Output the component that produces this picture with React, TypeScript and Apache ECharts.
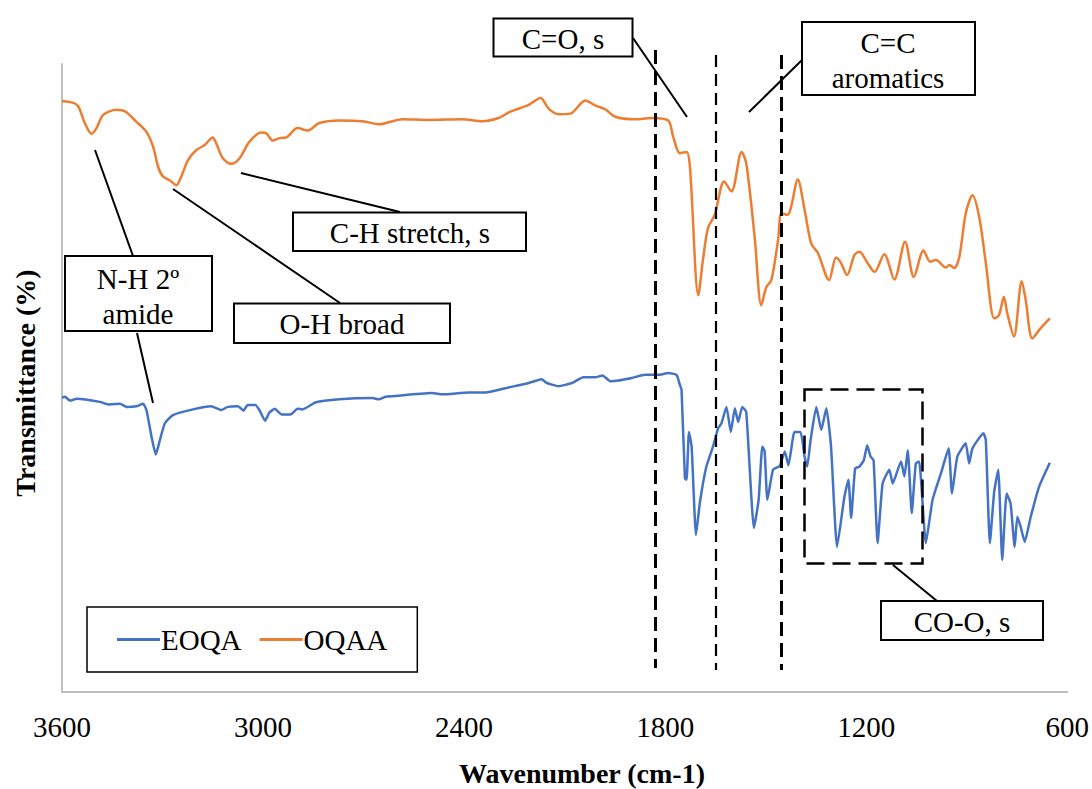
import React, { useEffect, useRef } from "react";
import * as echarts from "echarts";

// OQAA (orange) spectrum: wavenumber (cm-1) and relative transmittance
const oqaaWn = [3600, 3566, 3551, 3532, 3512, 3497, 3477, 3437, 3410, 3378, 3348, 3328, 3313, 3299, 3279, 3259, 3244, 3224, 3199, 3174, 3150, 3140, 3120, 3095, 3070, 3041, 3006, 2991, 2971, 2951, 2931, 2897, 2867, 2832, 2773, 2703, 2654, 2584, 2505, 2406, 2346, 2297, 2262, 2207, 2172, 2148, 2118, 2083, 2038, 2009, 1979, 1949, 1890, 1841, 1791, 1776, 1756, 1736, 1726, 1701, 1686, 1672, 1652, 1624, 1602, 1572, 1558, 1533, 1513, 1498, 1483, 1463, 1453, 1434, 1424, 1404, 1384, 1364, 1344, 1311, 1290, 1275, 1257, 1235, 1220, 1197, 1175, 1146, 1116, 1084, 1058, 1029, 1009, 992, 962, 952, 937, 922, 903, 883, 863, 843, 818, 804, 789, 779, 759, 736, 724, 704, 680, 652];
const oqaaT = [94.1, 93.8, 93.2, 90.6, 88.9, 89.8, 91.9, 92.7, 92.4, 90.8, 89.2, 86.8, 83.6, 82.1, 81.5, 80.7, 82.1, 84.7, 86.3, 87.1, 88.3, 87.4, 85.0, 84.1, 85.0, 87.6, 89.1, 89.0, 87.8, 88.2, 88.3, 89.8, 89.4, 90.6, 91.0, 90.9, 90.4, 91.2, 91.1, 91.2, 90.9, 91.4, 92.4, 93.5, 94.6, 92.9, 92.0, 92.1, 94.2, 93.4, 92.8, 91.6, 91.2, 91.4, 91.0, 88.4, 85.8, 86.0, 83.6, 63.2, 69.3, 73.9, 76.0, 81.3, 79.7, 86.0, 84.2, 72.5, 61.6, 64.5, 65.6, 72.0, 76.2, 76.0, 77.3, 81.6, 76.8, 71.4, 69.9, 65.6, 69.2, 68.3, 66.4, 69.6, 70.1, 68.4, 66.9, 69.7, 65.7, 71.7, 66.1, 70.3, 68.5, 68.8, 67.6, 68.0, 67.5, 69.3, 76.2, 79.1, 75.7, 68.3, 59.5, 60.0, 62.9, 60.3, 56.6, 65.4, 62.4, 56.3, 57.9, 59.5];

// EOQA (blue) spectrum
const eoqaWn = [3600, 3591, 3576, 3556, 3487, 3462, 3427, 3407, 3378, 3358, 3348, 3333, 3320, 3308, 3293, 3269, 3209, 3155, 3125, 3105, 3075, 3058, 3046, 3023, 3011, 2994, 2981, 2965, 2945, 2918, 2897, 2882, 2844, 2773, 2674, 2654, 2634, 2574, 2495, 2465, 2386, 2336, 2267, 2207, 2169, 2153, 2118, 2078, 2044, 2009, 1987, 1964, 1939, 1900, 1860, 1820, 1791, 1766, 1756, 1751, 1741, 1736, 1729, 1721, 1708, 1696, 1677, 1657, 1642, 1632, 1617, 1604, 1592, 1582, 1570, 1558, 1535, 1521, 1510, 1503, 1495, 1478, 1458, 1443, 1432, 1414, 1396, 1384, 1376, 1366, 1349, 1334, 1319, 1305, 1287, 1265, 1253, 1245, 1233, 1220, 1207, 1197, 1187, 1178, 1166, 1151, 1131, 1121, 1096, 1086, 1076, 1064, 1052, 1042, 1022, 1002, 977, 954, 944, 928, 903, 893, 883, 850, 843, 831, 818, 806, 794, 781, 769, 757, 749, 739, 727, 709, 684, 652];
const eoqaT = [46.9, 47.0, 46.4, 46.7, 46.2, 45.8, 45.9, 45.4, 45.5, 45.9, 44.9, 40.7, 37.8, 40.1, 42.8, 44.1, 45.0, 45.5, 44.9, 45.4, 45.5, 44.8, 45.7, 45.7, 44.9, 43.2, 44.5, 45.1, 44.2, 44.2, 45.1, 45.0, 46.1, 46.6, 46.8, 46.6, 47.0, 47.3, 47.6, 47.4, 47.7, 47.7, 48.5, 49.2, 49.8, 49.2, 48.7, 49.2, 50.1, 50.1, 50.4, 49.5, 49.6, 50.0, 50.5, 50.5, 50.8, 50.5, 48.9, 48.1, 34.0, 33.8, 41.4, 39.1, 25.0, 30.3, 35.9, 39.1, 42.0, 42.8, 45.4, 41.4, 45.2, 43.0, 45.4, 44.6, 26.1, 30.6, 39.1, 38.3, 30.6, 35.4, 36.0, 38.3, 36.1, 41.4, 41.4, 37.5, 35.9, 40.1, 45.4, 41.7, 45.2, 39.1, 23.1, 31.1, 33.8, 27.7, 35.6, 35.9, 36.9, 39.3, 37.5, 36.9, 23.7, 33.2, 35.4, 33.2, 36.7, 34.3, 38.5, 28.5, 36.4, 36.7, 23.7, 30.6, 34.8, 38.8, 31.6, 37.5, 39.6, 36.4, 38.8, 41.2, 40.1, 23.7, 31.9, 35.4, 21.0, 31.6, 30.0, 23.1, 27.9, 26.3, 23.9, 27.9, 32.7, 36.5];

const seriesNames = ["EOQA", "OQAA"];
const xTicks = { min: 600, max: 3600, interval: 600 };

const SERIF = "'Liberation Serif', 'Times New Roman', serif";

function zip(xs: number[], ys: number[]) {
  return xs.map((x, i) => [x, ys[i]]);
}

function box(x: number, y: number, w: number, h: number) {
  return {
    type: "rect",
    shape: { x, y, width: w, height: h },
    style: { fill: "#fff", stroke: "#000", lineWidth: 2 },
    z: 10,
  };
}

function label(text: string, x: number, y: number, extra: any = {}) {
  return {
    type: "text",
    x,
    y,
    z: 11,
    style: {
      text,
      align: "center",
      verticalAlign: "middle",
      fontSize: 29,
      fontFamily: SERIF,
      fill: "#000",
      lineHeight: 35,
      ...extra,
    },
  };
}

function seg(x1: number, y1: number, x2: number, y2: number, w = 2, dash: number[] | null = null) {
  return {
    type: "line",
    shape: { x1, y1, x2, y2 },
    style: { stroke: "#000", lineWidth: w, lineDash: dash || undefined },
    z: 9,
  };
}

export default function App() {
  const ref = useRef<HTMLDivElement>(null);
  useEffect(() => {
    if (!ref.current) return;
    const chart = echarts.init(ref.current, undefined, { renderer: "svg" });
    chart.setOption({
      animation: false,
      backgroundColor: "#fff",
      grid: { left: 62, right: 22, top: 64, bottom: 97, containLabel: false },
      xAxis: {
        type: "value",
        inverse: true,
        min: xTicks.min,
        max: xTicks.max,
        interval: xTicks.interval,
        axisLine: { show: true, lineStyle: { color: "#BFBFBF", width: 2 } },
        axisTick: { show: false },
        splitLine: { show: false },
        axisLabel: {
          fontSize: 29,
          fontFamily: SERIF,
          color: "#000",
          margin: 20,
          showMinLabel: true,
          showMaxLabel: true,
          formatter: (v: number) => String(v),
        },
      },
      yAxis: {
        type: "value",
        min: 0,
        max: 100,
        position: "left",
        axisLine: { show: true, onZero: false, lineStyle: { color: "#BFBFBF", width: 2 } },
        axisTick: { show: false },
        axisLabel: { show: false },
        splitLine: { show: false },
      },
      legend: {
        data: seriesNames,
        left: 87,
        top: 607,
        orient: "horizontal",
        padding: [18, 30, 18, 30],
        borderColor: "#000",
        borderWidth: 1.5,
        itemGap: 18,
        itemWidth: 43,
        itemHeight: 3,
        icon: "rect",
        textStyle: { fontSize: 29, fontFamily: SERIF, color: "#000", padding: [0, 0, 0, -4] },
      },
      series: [
        {
          name: seriesNames[0],
          type: "line",
          data: zip(eoqaWn, eoqaT),
          showSymbol: false,
          smooth: 0.15,
          lineStyle: { color: "#4472C4", width: 2.5 },
          itemStyle: { color: "#4472C4" },
        },
        {
          name: seriesNames[1],
          type: "line",
          data: zip(oqaaWn, oqaaT),
          showSymbol: false,
          smooth: 0.3,
          lineStyle: { color: "#ED7D31", width: 2.5 },
          itemStyle: { color: "#ED7D31" },
        },
      ],
      graphic: [
        // dashed reference lines
        seg(655.5, 50, 655.5, 668, 3, [14, 7]),
        seg(716, 55, 716, 670, 2.2, [12, 7]),
        seg(781.5, 55, 781.5, 670, 3, [14, 7]),
        // dashed region box
        {
          type: "rect",
          shape: { x: 804.5, y: 389.5, width: 118, height: 174 },
          style: { fill: "none", stroke: "#000", lineWidth: 2.5, lineDash: [18, 8] },
          z: 9,
        },
        // leader lines
        seg(633, 38, 687, 117),
        seg(802, 60, 749, 112),
        seg(400, 212, 241, 173),
        seg(133, 256, 95, 150),
        seg(137, 333, 153, 403),
        seg(340, 303, 173, 189),
        seg(937, 601, 893, 565),
        // boxes
        box(493.5, 18.5, 139, 38),
        label("C=O, s", 563, 39),
        box(802, 22, 173, 73),
        label("C=C\naromatics", 888, 60),
        box(293, 212.5, 233, 38.5),
        label("C-H stretch, s", 410, 233),
        box(65, 256, 147, 75),
        label("N-H 2º\namide", 138, 296),
        box(234, 303.5, 216, 39.5),
        label("O-H broad", 342, 324),
        box(881, 601, 162, 39),
        label("CO-O, s", 962, 622),
        // axis titles
        {
          type: "text",
          x: 582,
          y: 773,
          style: {
            text: "Wavenumber (cm-1)",
            align: "center",
            verticalAlign: "middle",
            fontSize: 28,
            fontWeight: "bold",
            fontFamily: SERIF,
            fill: "#000",
          },
        },
        {
          type: "text",
          x: 25,
          y: 383,
          rotation: Math.PI / 2,
          style: {
            text: "Transmittance (%)",
            align: "center",
            verticalAlign: "middle",
            fontSize: 28,
            fontWeight: "bold",
            fontFamily: SERIF,
            fill: "#000",
          },
        },
      ],
    });
    return () => chart.dispose();
  }, []);
  return (
    <div
      ref={ref}
      style={{ position: "fixed", left: 0, top: 0, width: 1092, height: 789, background: "#fff" }}
    />
  );
}
